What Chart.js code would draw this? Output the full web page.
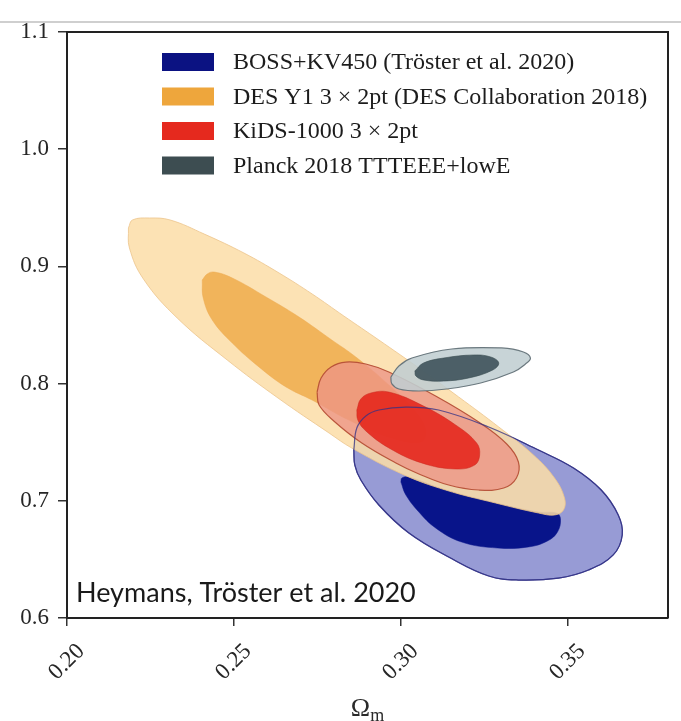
<!DOCTYPE html>
<html>
<head>
<meta charset="utf-8">
<script src="https://cdn.jsdelivr.net/npm/chart.js@4.4.0/dist/chart.umd.min.js"></script>
<style>
  html, body { margin: 0; padding: 0; background: #ffffff; }
  canvas { display: block; }
</style>
</head>
<body>
<canvas id="c" width="681" height="721"></canvas>
<script>
// Axis ticks
const xTicks = [0.20, 0.25, 0.30, 0.35];
const yTicks = [0.6, 0.7, 0.8, 0.9, 1.0, 1.1];

// Legend entries
const surveys = [
  'BOSS+KV450 (Tröster et al. 2020)',
  'DES Y1 3 × 2pt (DES Collaboration 2018)',
  'KiDS-1000 3 × 2pt',
  'Planck 2018 TTTEEE+lowE'
];

// Confidence contours, [Ωm, σ8] pairs (68% inner, 95% outer)
const bossOuter = [
  [0.2859, 0.7433], [0.2868, 0.7621], [0.2895, 0.7724], [0.2934, 0.7775], [0.3015, 0.7800],
  [0.3113, 0.7775], [0.3263, 0.7630], [0.3412, 0.7433], [0.3517, 0.7280], [0.3600, 0.7092],
  [0.3651, 0.6879], [0.3663, 0.6708], [0.3636, 0.6538], [0.3562, 0.6410], [0.3472, 0.6341],
  [0.3352, 0.6324], [0.3263, 0.6358], [0.3143, 0.6520], [0.3024, 0.6725], [0.2934, 0.6964],
  [0.2880, 0.7177], [0.2862, 0.7305]
];
const bossInner = [
  [0.3000, 0.7160], [0.3015, 0.7049], [0.3054, 0.6904], [0.3104, 0.6768], [0.3182, 0.6648],
  [0.3290, 0.6597], [0.3382, 0.6606], [0.3439, 0.6657], [0.3469, 0.6734], [0.3478, 0.6845],
  [0.3466, 0.6896], [0.3412, 0.6904], [0.3284, 0.6981], [0.3134, 0.7092], [0.3024, 0.7203],
  [0.3003, 0.7195]
];
const desOuter = [
  [0.2184, 0.9328], [0.2196, 0.9396], [0.2247, 0.9413], [0.2309, 0.9396], [0.2411, 0.9276],
  [0.2530, 0.9114], [0.2635, 0.8944], [0.2734, 0.8765], [0.2829, 0.8577], [0.2934, 0.8372],
  [0.3054, 0.8133], [0.3173, 0.7886], [0.3293, 0.7630], [0.3397, 0.7391], [0.3460, 0.7195],
  [0.3490, 0.7024], [0.3487, 0.6922], [0.3460, 0.6879], [0.3412, 0.6896], [0.3284, 0.6981],
  [0.3134, 0.7092], [0.3003, 0.7229], [0.2853, 0.7450], [0.2785, 0.7578], [0.2632, 0.7877],
  [0.2480, 0.8201], [0.2330, 0.8560], [0.2229, 0.8892], [0.2187, 0.9157]
];
const desInner = [
  [0.2405, 0.8884], [0.2420, 0.8935], [0.2441, 0.8952], [0.2495, 0.8901], [0.2596, 0.8739],
  [0.2695, 0.8568], [0.2793, 0.8372], [0.2865, 0.8227], [0.2964, 0.7988], [0.3039, 0.7775],
  [0.3074, 0.7604], [0.3059, 0.7502], [0.2964, 0.7544], [0.2844, 0.7689], [0.2734, 0.7860],
  [0.2656, 0.7971], [0.2575, 0.8142], [0.2495, 0.8346], [0.2435, 0.8543], [0.2408, 0.8730]
];
const kidsOuter = [
  [0.2749, 0.7928], [0.2761, 0.8048], [0.2791, 0.8142], [0.2835, 0.8184], [0.2895, 0.8167],
  [0.2964, 0.8099], [0.3104, 0.7894], [0.3233, 0.7672], [0.3317, 0.7485], [0.3352, 0.7331],
  [0.3346, 0.7195], [0.3308, 0.7109], [0.3233, 0.7092], [0.3143, 0.7135], [0.3054, 0.7229],
  [0.2985, 0.7323], [0.2883, 0.7493], [0.2799, 0.7681], [0.2755, 0.7817]
];
const kidsInner = [
  [0.2868, 0.7775], [0.2880, 0.7869], [0.2910, 0.7920], [0.2964, 0.7928], [0.3062, 0.7817],
  [0.3164, 0.7647], [0.3227, 0.7493], [0.3236, 0.7391], [0.3221, 0.7305], [0.3164, 0.7271],
  [0.3062, 0.7323], [0.2964, 0.7451], [0.2895, 0.7596], [0.2871, 0.7689]
];
const planckOuter = [
  [0.2970, 0.8056], [0.2994, 0.8150], [0.3033, 0.8218], [0.3152, 0.8295], [0.3302, 0.8304],
  [0.3367, 0.8270], [0.3388, 0.8218], [0.3373, 0.8167], [0.3337, 0.8099], [0.3239, 0.8005],
  [0.3137, 0.7954], [0.3054, 0.7937], [0.2994, 0.7954], [0.2973, 0.7997]
];
const planckInner = [
  [0.3042, 0.8108], [0.3068, 0.8176], [0.3128, 0.8218], [0.3218, 0.8244], [0.3269, 0.8227],
  [0.3293, 0.8176], [0.3275, 0.8116], [0.3203, 0.8048], [0.3128, 0.8022], [0.3068, 0.8031],
  [0.3045, 0.8065]
];

// Colours
const legendColors = ['#0b1282', '#eea63c', '#e5291e', '#3d4d51'];
const serif = '"Liberation Serif", "DejaVu Serif", serif';
const tickColor = '#262626';

// Closed, smoothed contour as a filled line dataset
function contour(points, fill, edge, edgeWidth, order, doFill = true) {
  const pts = points.concat([points[0]]).map(([x, y]) => ({ x, y }));
  return {
    data: pts,
    showLine: true,
    fill: doFill ? 'shape' : false,
    backgroundColor: fill,
    borderColor: edge,
    borderWidth: edgeWidth,
    pointRadius: 0,
    pointHoverRadius: 0,
    tension: 0.4,
    order
  };
}

const datasets = [
  contour(bossOuter,  'rgba(148,152,212,0.97)', 'rgba(60,60,140,0.9)', 1.2, 10),
  contour(bossInner,  'rgba(8,20,138,1)',        'rgba(8,20,138,1)',    0.5, 9),
  contour(desOuter,   'rgba(251,221,168,0.86)',  'rgba(236,196,140,0.8)', 1, 8),
  contour(desInner,   'rgba(240,176,84,0.92)',   'rgba(236,168,80,0.6)', 0.8, 7),
  contour(kidsOuter,  'rgba(238,150,134,0.80)',  'rgba(180,75,50,0.9)', 1.2, 6),
  contour(kidsInner,  'rgba(228,34,24,0.86)',    'rgba(200,40,30,0.6)', 0.8, 5),
  contour(planckOuter,'rgba(192,206,210,0.88)',  'rgba(95,110,116,0.9)', 1.2, 4),
  contour(planckInner,'rgba(66,86,93,0.92)',     'rgba(60,78,84,0.8)', 0.8, 3),
  contour(bossOuter,  'rgba(0,0,0,0)',           'rgba(50,50,135,0.75)', 1.2, 2, false)
];

const decor = {
  id: 'decor',
  beforeDraw(chart) {
    const ctx = chart.ctx;
    ctx.save();
    ctx.fillStyle = '#cfcfcf';
    ctx.fillRect(0, 21, chart.width, 2);
    ctx.restore();
  },
  afterDatasetsDraw(chart) {
    const { ctx, chartArea: a } = chart;
    ctx.save();
    // frame, top and right
    ctx.strokeStyle = '#222';
    ctx.lineWidth = 2;
    ctx.beginPath();
    ctx.moveTo(a.left, a.top);
    ctx.lineTo(a.right, a.top);
    ctx.lineTo(a.right, a.bottom);
    ctx.stroke();

    // legend
    ctx.font = '24px ' + serif;
    ctx.textBaseline = 'middle';
    ctx.textAlign = 'left';
    surveys.forEach((label, i) => {
      const cy = a.top + 30 + i * 34.5;
      ctx.fillStyle = legendColors[i];
      ctx.fillRect(a.left + 95, cy - 9, 52, 18);
      ctx.fillStyle = '#1c1c1c';
      ctx.fillText(label, a.left + 166, cy + 1);
    });

    // credit
    ctx.font = '27px Lato, "Open Sans", sans-serif';
    ctx.textBaseline = 'alphabetic';
    ctx.fillStyle = '#1a1a1a';
    ctx.fillText('Heymans, Tröster et al. 2020', a.left + 9, a.bottom - 16);
    ctx.restore();
  },
  afterDraw(chart) {
    const { ctx, chartArea: a } = chart;
    ctx.save();
    ctx.fillStyle = '#2a2a2a';
    ctx.textBaseline = 'alphabetic';
    ctx.textAlign = 'left';
    ctx.font = '26px ' + serif;
    const w1 = ctx.measureText('Ω').width;
    ctx.font = '18px ' + serif;
    const w2 = ctx.measureText('m').width;
    const x0 = (a.left + a.right) / 2 - (w1 + w2) / 2;
    ctx.font = '26px ' + serif;
    ctx.fillText('Ω', x0, 716);
    ctx.font = '18px ' + serif;
    ctx.fillText('m', x0 + w1, 721);
    ctx.restore();
  }
};

new Chart(document.getElementById('c'), {
  type: 'scatter',
  data: { datasets },
  options: {
    responsive: false,
    animation: false,
    devicePixelRatio: 1,
    layout: { padding: { top: 32, right: 13, left: 0, bottom: 0 } },
    plugins: { legend: { display: false }, tooltip: { enabled: false } },
    scales: {
      x: {
        type: 'linear',
        min: 0.2,
        max: 0.38,
        afterBuildTicks: s => { s.ticks = xTicks.map(v => ({ value: v })); },
        afterFit: s => { s.height = 103; },
        ticks: {
          callback: v => Number(v).toFixed(2),
          minRotation: 45,
          maxRotation: 45,
          autoSkip: false,
          labelOffset: 14,
          padding: 12,
          color: tickColor,
          font: { family: serif, size: 23 }
        },
        grid: { drawOnChartArea: false, drawTicks: true, tickLength: 8, color: '#333', lineWidth: 1.5 },
        border: { display: true, color: '#222', width: 2 }
      },
      y: {
        type: 'linear',
        min: 0.6,
        max: 1.1,
        afterBuildTicks: s => { s.ticks = yTicks.map(v => ({ value: v })); },
        afterFit: s => { s.width = 67; },
        ticks: {
          callback: v => Number(v).toFixed(1),
          padding: 9,
          color: tickColor,
          font: { family: serif, size: 23 }
        },
        grid: { drawOnChartArea: false, drawTicks: true, tickLength: 9, color: '#333', lineWidth: 1.5 },
        border: { display: true, color: '#222', width: 2 }
      }
    }
  },
  plugins: [decor]
});
</script>
</body>
</html>
